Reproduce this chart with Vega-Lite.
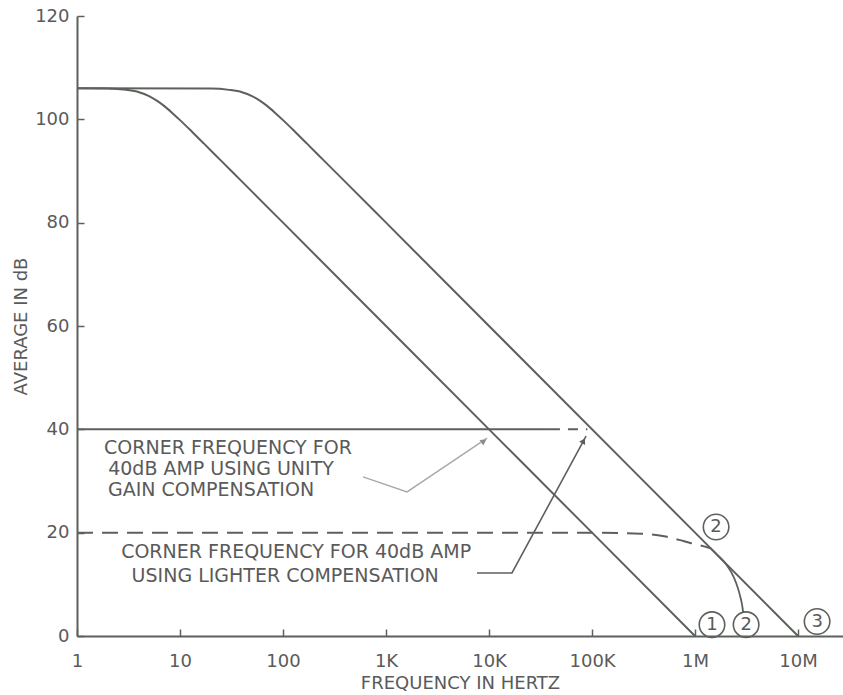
{
  "$schema": "https://vega.github.io/schema/vega-lite/v6.json",
  "width": 766,
  "height": 620,
  "autosize": "none",
  "padding": {"left": 77, "top": 16, "right": 0, "bottom": 59},
  "background": "white",
  "config": {
    "view": {"stroke": null},
    "font": "DejaVu Sans",
    "axis": {
      "domainColor": "#5c615c",
      "domainWidth": 2,
      "tickColor": "#5c615c",
      "tickWidth": 1.5,
      "tickSize": -7,
      "labelColor": "#5a5a5a",
      "labelFont": "DejaVu Sans",
      "labelFontSize": 18,
      "titleColor": "#5a5a5a",
      "titleFont": "DejaVu Sans",
      "titleFontSize": 18,
      "titleFontWeight": "normal",
      "grid": false
    }
  },
  "datasets": {
    "curveA": [
      {"f": 1, "db": 106}, {"f": 2, "db": 105.95}, {"f": 3, "db": 105.7}, {"f": 4, "db": 105.25},
      {"f": 5, "db": 104.5}, {"f": 6, "db": 103.56}, {"f": 7, "db": 102.6}, {"f": 8.5, "db": 101.15},
      {"f": 10, "db": 99.85}, {"f": 13, "db": 97.65}, {"f": 17, "db": 95.35}, {"f": 25, "db": 92},
      {"f": 40, "db": 87.94}, {"f": 100, "db": 80}, {"f": 1000, "db": 60}, {"f": 10000, "db": 40},
      {"f": 100000, "db": 20}, {"f": 998000, "db": 0}
    ],
    "curveB": [
      {"f": 1, "db": 106}, {"f": 20, "db": 105.95}, {"f": 30, "db": 105.7}, {"f": 40, "db": 105.25},
      {"f": 50, "db": 104.5}, {"f": 60, "db": 103.56}, {"f": 70, "db": 102.6}, {"f": 85, "db": 101.15},
      {"f": 100, "db": 99.85}, {"f": 130, "db": 97.65}, {"f": 170, "db": 95.35}, {"f": 250, "db": 92},
      {"f": 400, "db": 87.94}, {"f": 1000, "db": 80}, {"f": 1000000, "db": 20}, {"f": 9980000, "db": 0}
    ],
    "curve2dash": [
      {"f": 1, "db": 20}, {"f": 100000, "db": 20}, {"f": 300000, "db": 19.8}, {"f": 500000, "db": 19.3},
      {"f": 700000, "db": 18.6}, {"f": 900000, "db": 18}, {"f": 1100000, "db": 17.6},
      {"f": 1250000, "db": 17.3}, {"f": 1410000, "db": 17}
    ],
    "curve2solid": [
      {"f": 1410000, "db": 17}, {"f": 1700000, "db": 15.4}, {"f": 2000000, "db": 13.9},
      {"f": 2250000, "db": 12.3}, {"f": 2500000, "db": 10.3}, {"f": 2700000, "db": 8.2},
      {"f": 2850000, "db": 6.2}, {"f": 2930000, "db": 4.6}
    ],
    "line40solid": [{"f": 1, "db": 40}, {"f": 39000, "db": 40}],
    "line40dash": [{"f": 39000, "db": 40}, {"f": 90000, "db": 40}],
    "arrow1": [
      {"f": 598, "db": 30.8}, {"f": 1600, "db": 27.9}, {"f": 9570, "db": 38.3}
    ],
    "arrow2": [
      {"f": 7640, "db": 12.2}, {"f": 16700, "db": 12.2}, {"f": 87500, "db": 38.7}
    ],
    "head1": [{"f": 8750, "db": 37.6}],
    "head2": [{"f": 81800, "db": 37.6}],
    "labels": [
      {"f": 29.2, "db": 36.4, "text": "CORNER FREQUENCY FOR"},
      {"f": 25, "db": 32.4, "text": "40dB AMP USING UNITY"},
      {"f": 20, "db": 28.3, "text": "GAIN COMPENSATION"},
      {"f": 134, "db": 16.2, "text": "CORNER FREQUENCY FOR 40dB AMP"},
      {"f": 105, "db": 11.6, "text": "USING LIGHTER COMPENSATION"}
    ],
    "circles": [
      {"f": 1600000, "db": 21.1, "text": "2"},
      {"f": 1460000, "db": 2.2, "text": "1"},
      {"f": 3130000, "db": 2.2, "text": "2"},
      {"f": 15300000, "db": 2.8, "text": "3"}
    ]
  },
  "encoding": {
    "x": {
      "field": "f", "type": "quantitative",
      "scale": {"type": "log", "domain": [1, 27300000], "nice": false},
      "axis": {
        "title": "FREQUENCY IN HERTZ",
        "values": [1, 10, 100, 1000, 10000, 100000, 1000000, 10000000],
        "labelExpr": "datum.value >= 1000000 ? (datum.value/1000000) + 'M' : datum.value >= 1000 ? (datum.value/1000) + 'K' : datum.value + ''",
        "labelPadding": 23,
        "titlePadding": 4,
        "labelFlush": false,
        "labelOverlap": false
      }
    },
    "y": {
      "field": "db", "type": "quantitative",
      "scale": {"domain": [0, 120], "nice": false},
      "axis": {
        "title": "AVERAGE IN dB",
        "values": [0, 20, 40, 60, 80, 100, 120],
        "labelPadding": 15,
        "titlePadding": 4,
        "labelFlush": false
      }
    }
  },
  "layer": [
    {"data": {"name": "curveA"}, "mark": {"type": "line", "color": "#5c615c", "strokeWidth": 2, "interpolate": "monotone"}},
    {"data": {"name": "curveB"}, "mark": {"type": "line", "color": "#5c615c", "strokeWidth": 2, "interpolate": "monotone"}},
    {"data": {"name": "curve2dash"}, "mark": {"type": "line", "color": "#5c615c", "strokeWidth": 2, "strokeDash": [16, 9], "interpolate": "monotone"}},
    {"data": {"name": "curve2solid"}, "mark": {"type": "line", "color": "#5c615c", "strokeWidth": 1.8, "interpolate": "monotone"}},
    {"data": {"name": "line40solid"}, "mark": {"type": "line", "color": "#5c615c", "strokeWidth": 2}},
    {"data": {"name": "line40dash"}, "mark": {"type": "line", "color": "#5c615c", "strokeWidth": 2, "strokeDash": [10, 8]}},
    {"data": {"name": "arrow1"}, "mark": {"type": "line", "color": "#a8aaa8", "strokeWidth": 1.5}},
    {"data": {"name": "arrow2"}, "mark": {"type": "line", "color": "#5c615c", "strokeWidth": 1.6}},
    {"data": {"name": "head1"}, "mark": {"type": "point", "shape": "triangle", "angle": 56, "size": 45, "filled": true, "color": "#8a8c8a", "opacity": 1}},
    {"data": {"name": "head2"}, "mark": {"type": "point", "shape": "triangle", "angle": 28, "size": 45, "filled": true, "color": "#5c615c", "opacity": 1}},
    {"data": {"name": "labels"}, "mark": {"type": "text", "align": "center", "baseline": "middle", "fontSize": 19, "color": "#5a5a5a", "font": "DejaVu Sans"}, "encoding": {"text": {"field": "text"}}},
    {"data": {"name": "circles"}, "mark": {"type": "point", "shape": "circle", "size": 650, "filled": false, "color": "#5c615c", "strokeWidth": 1.6, "opacity": 1}},
    {"data": {"name": "circles"}, "mark": {"type": "text", "align": "center", "baseline": "middle", "fontSize": 18, "color": "#5a5a5a", "font": "DejaVu Sans"}, "encoding": {"text": {"field": "text"}}}
  ]
}
